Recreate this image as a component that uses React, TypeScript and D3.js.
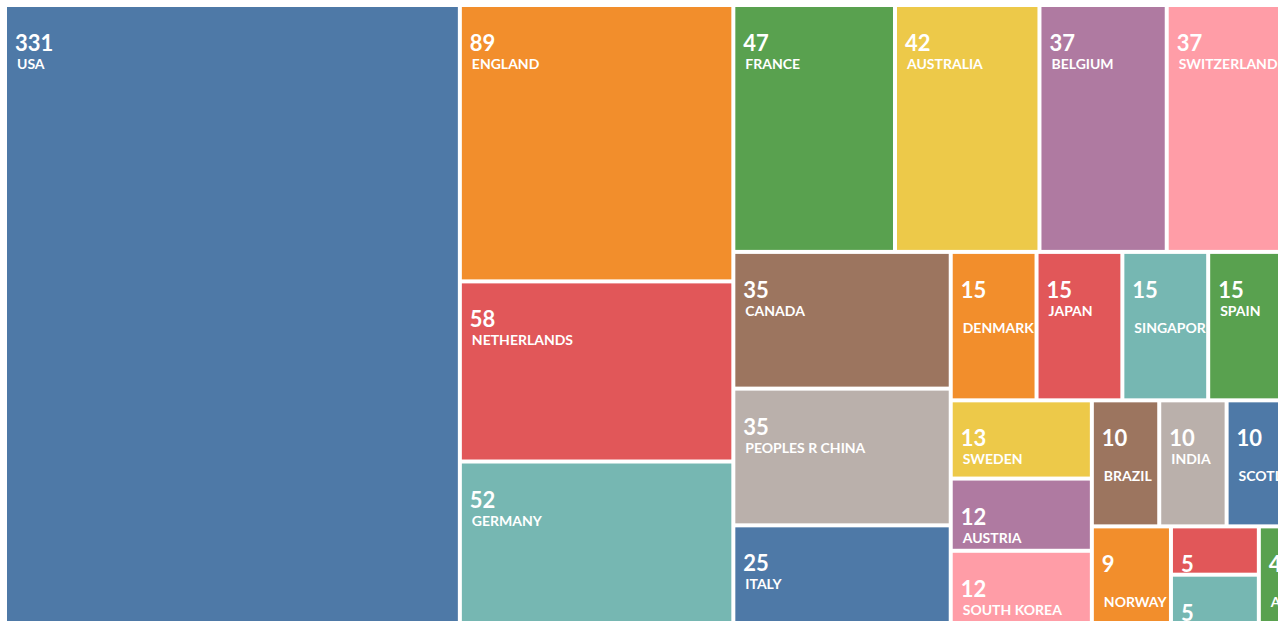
import React from "react";
import * as d3 from "d3";

const countries = [
  "USA", "ENGLAND", "NETHERLANDS", "GERMANY", "FRANCE", "AUSTRALIA", "BELGIUM", "SWITZERLAND",
  "CANADA", "PEOPLES R CHINA", "ITALY", "DENMARK", "JAPAN", "SINGAPORE", "SPAIN", "SWEDEN",
  "AUSTRIA", "SOUTH KOREA", "BRAZIL", "INDIA", "SCOTLAND", "NORWAY", "FINLAND", "ISRAEL", "ARGENTINA",
];
const counts = [331, 89, 58, 52, 47, 42, 37, 37, 35, 35, 25, 15, 15, 15, 15, 13, 12, 12, 10, 10, 10, 9, 5, 5, 4];

const VIEW_W = 1278;
const VIEW_H = 628;
const X0 = 7;
const Y0 = 7;
const TW = 1285;
const TH = 614;
const GAP = 4;

const NAME_FONT = "bold 14px Lato";

let ctx: CanvasRenderingContext2D | null = null;
function measure(text: string, font: string) {
  if (!ctx) ctx = document.createElement("canvas").getContext("2d");
  if (!ctx) return text.length * 9;
  ctx.font = font;
  return ctx.measureText(text).width;
}

export default function App() {
  const data = countries.map((name, i) => ({ name, value: counts[i], idx: i }));
  const root = d3
    .hierarchy<any>({ name: "root", children: data })
    .sum((d: any) => d.value || 0)
    .sort((a: any, b: any) => (b.value - a.value) || (a.data.idx - b.data.idx));
  d3.treemap<any>().size([TW, TH]).paddingInner(GAP).tile(d3.treemapSquarify)(root);
  const color = d3.scaleOrdinal<number, string>().domain(d3.range(10)).range(d3.schemeTableau10);
  const leaves = root.leaves() as any[];

  return (
    <svg
      width={VIEW_W}
      height={VIEW_H}
      style={{ position: "absolute", left: 0, top: 0, background: "#fff" }}
    >
      <defs>
        {leaves.map((l, i) => (
          <clipPath id={`clip-${i}`} key={i}>
            <rect x={l.x0} y={l.y0} width={l.x1 - l.x0} height={l.y1 - l.y0} />
          </clipPath>
        ))}
      </defs>
      <g transform={`translate(${X0},${Y0})`}>
        {leaves.map((l, i) => {
          const w = l.x1 - l.x0;
          const h = l.y1 - l.y0;
          const nameW = measure(l.data.name, NAME_FONT);
          const wrap = nameW > w - 20 ? 17 : 0;
          return (
            <g key={i}>
              <rect x={l.x0} y={l.y0} width={w} height={h} fill={color(l.data.idx % 10)} />
              <g clipPath={`url(#clip-${i})`} fill="#fff" fontFamily="Lato" fontWeight="bold">
                <text x={l.x0 + 8} y={l.y0 + 44} fontSize={22}>
                  {l.data.value}
                </text>
                <text x={l.x0 + 10} y={l.y0 + 62 + wrap} fontSize={14}>
                  {l.data.name}
                </text>
              </g>
            </g>
          );
        })}
      </g>
    </svg>
  );
}
